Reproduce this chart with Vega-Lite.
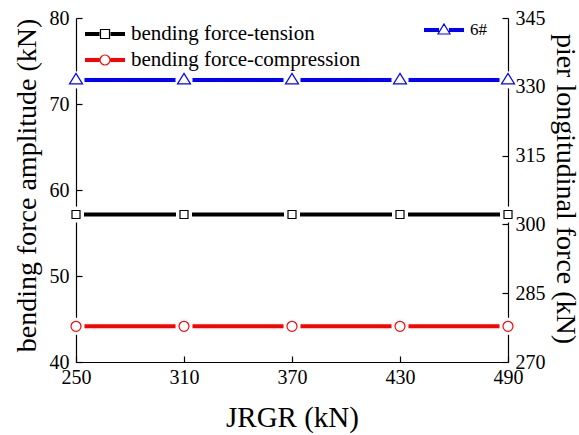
{
  "$schema": "https://vega.github.io/schema/vega-lite/v6.json",
  "width": 432,
  "height": 344,
  "autosize": "none",
  "padding": {"left": 76, "top": 18, "right": 71, "bottom": 73},
  "background": "white",
  "config": {
    "view": {"stroke": null},
    "font": "'Liberation Serif', 'Times New Roman', 'DejaVu Serif', serif",
    "text": {"font": "'Liberation Serif', 'Times New Roman', 'DejaVu Serif', serif"},
    "axis": {
      "domainColor": "black", "domainWidth": 1.2, "tickColor": "black", "tickWidth": 1.2,
      "labelColor": "black", "titleColor": "black",
      "labelFont": "'Liberation Serif', 'Times New Roman', 'DejaVu Serif', serif",
      "titleFont": "'Liberation Serif', 'Times New Roman', 'DejaVu Serif', serif",
      "labelFontSize": 20, "titleFontSize": 28, "titleFontWeight": "normal", "grid": false, "zindex": 1,
      "tickSize": -6, "labelPadding": 13, "labelFlush": false
    },
    "legend": {"labelFont": "'Liberation Serif', 'Times New Roman', 'DejaVu Serif', serif", "labelColor": "black", "labelLimit": 0, "padding": 0, "title": null}
  },
  "data": {
    "values": [
      {"JRGR": 250, "series": "bending force-tension", "force": 57.15, "axis": "left"},
      {"JRGR": 310, "series": "bending force-tension", "force": 57.15, "axis": "left"},
      {"JRGR": 370, "series": "bending force-tension", "force": 57.15, "axis": "left"},
      {"JRGR": 430, "series": "bending force-tension", "force": 57.15, "axis": "left"},
      {"JRGR": 490, "series": "bending force-tension", "force": 57.15, "axis": "left"},
      {"JRGR": 250, "series": "bending force-compression", "force": 44.15, "axis": "left"},
      {"JRGR": 310, "series": "bending force-compression", "force": 44.15, "axis": "left"},
      {"JRGR": 370, "series": "bending force-compression", "force": 44.15, "axis": "left"},
      {"JRGR": 430, "series": "bending force-compression", "force": 44.15, "axis": "left"},
      {"JRGR": 490, "series": "bending force-compression", "force": 44.15, "axis": "left"},
      {"JRGR": 250, "series": "6#", "force": 331.5, "axis": "right"},
      {"JRGR": 310, "series": "6#", "force": 331.5, "axis": "right"},
      {"JRGR": 370, "series": "6#", "force": 331.5, "axis": "right"},
      {"JRGR": 430, "series": "6#", "force": 331.5, "axis": "right"},
      {"JRGR": 490, "series": "6#", "force": 331.5, "axis": "right"}
    ]
  },
  "encoding": {
    "x": {
      "field": "JRGR", "type": "quantitative",
      "scale": {"domain": [250, 490], "nice": false, "zero": false},
      "axis": {"values": [250, 310, 370, 430, 490], "title": "JRGR (kN)", "titleFontSize": 29, "labelPadding": 11, "titleX": 216, "titleY": 64, "titleBaseline": "alphabetic", "titleAlign": "center", "titleAnchor": null}
    }
  },
  "layer": [
    {
      "encoding": {
        "y": {
          "field": "force", "type": "quantitative",
          "scale": {"domain": [40, 80], "nice": false, "zero": false},
          "axis": {"values": [40, 50, 60, 70, 80], "title": "bending force amplitude (kN)", "titleX": -41, "titleY": 167, "titleAngle": -90, "titleBaseline": "alphabetic", "titleAlign": "center", "titleAnchor": null}
        }
      },
      "layer": [
        {
          "transform": [{"filter": "datum.series === 'bending force-tension'"}],
          "layer": [
            {"mark": {"type": "line", "strokeWidth": 4, "strokeCap": "butt", "color": "black"}, "encoding": {}},
            {"mark": {"type": "point", "filled": true, "color": "white", "opacity": 1, "strokeWidth": 0, "shape": "square", "size": 256}, "encoding": {}},
            {
              "mark": {"type": "point", "filled": false, "opacity": 1, "strokeWidth": 1.2, "shape": "square", "size": 64},
              "encoding": {
                "color": {
                  "field": "series", "type": "nominal",
                  "scale": {"domain": ["bending force-tension"], "range": ["black"]},
                  "legend": {
                    "orient": "none", "legendX": 18, "legendY": 5, "labelFontSize": 21, "symbolSize": 400,
                    "symbolStrokeWidth": 1.2, "labelOffset": 15,
                    "symbolType": "M-2,-0.15H-0.55M-2,-0.05H-0.55M-2,0.05H-0.55M-2,0.15H-0.55M0.55,-0.15H2M0.55,-0.05H2M0.55,0.05H2M0.55,0.15H2M-0.45,-0.45H0.45V0.45H-0.45Z"
                  }
                }
              }
            }
          ]
        },
        {
          "transform": [{"filter": "datum.series === 'bending force-compression'"}],
          "layer": [
            {"mark": {"type": "line", "strokeWidth": 4, "strokeCap": "butt", "color": "red"}, "encoding": {}},
            {"mark": {"type": "point", "filled": true, "color": "white", "opacity": 1, "strokeWidth": 0, "shape": "square", "size": 289}, "encoding": {}},
            {
              "mark": {"type": "point", "filled": false, "opacity": 1, "strokeWidth": 1.2, "shape": "circle", "size": 100},
              "encoding": {
                "color": {
                  "field": "series", "type": "nominal",
                  "scale": {"domain": ["bending force-compression"], "range": ["red"]},
                  "legend": {
                    "orient": "none", "legendX": 18, "legendY": 31, "labelFontSize": 21, "symbolSize": 400,
                    "symbolStrokeWidth": 1.2, "labelOffset": 15,
                    "symbolType": "M-2,-0.15H-0.55M-2,-0.05H-0.55M-2,0.05H-0.55M-2,0.15H-0.55M0.55,-0.15H2M0.55,-0.05H2M0.55,0.05H2M0.55,0.15H2M0.5,0A0.5,0.5,0,1,1,-0.5,0A0.5,0.5,0,1,1,0.5,0Z"
                  }
                }
              }
            }
          ]
        }
      ],
      "resolve": {"scale": {"color": "independent"}}
    },
    {
      "transform": [{"filter": "datum.axis === 'right'"}],
      "encoding": {
        "y": {
          "field": "force", "type": "quantitative",
          "scale": {"domain": [270, 345], "nice": false, "zero": false},
          "axis": {"orient": "right", "values": [270, 285, 300, 315, 330, 345], "title": "pier longitudinal force (kN)", "titleX": 48, "titleY": 170.5, "titleAngle": 90, "titleBaseline": "alphabetic", "titleAlign": "center", "titleAnchor": null}
        }
      },
      "layer": [
        {"mark": {"type": "line", "strokeWidth": 4, "strokeCap": "butt", "color": "#0000ff"}, "encoding": {}},
        {"mark": {"type": "point", "filled": true, "color": "white", "opacity": 1, "strokeWidth": 0, "shape": "square", "size": 289}, "encoding": {}},
        {
          "mark": {"type": "point", "filled": false, "opacity": 1, "strokeWidth": 1.2, "shape": "M0,-1L1,0.6L-1,0.6Z", "size": 169},
          "encoding": {
            "color": {
              "field": "series", "type": "nominal",
              "scale": {"domain": ["6#"], "range": ["#0000ff"]},
              "legend": {
                "orient": "none", "legendX": 357, "legendY": 1, "labelFontSize": 17, "symbolSize": 400,
                "symbolStrokeWidth": 1.2, "labelOffset": 15,
                "symbolType": "M-2,-0.15H-0.5M-2,-0.05H-0.5M-2,0.05H-0.5M-2,0.15H-0.5M0.5,-0.15H2M0.5,-0.05H2M0.5,0.05H2M0.5,0.15H2M0,-0.6L0.6,0.4L-0.6,0.4Z"
              }
            }
          }
        }
      ]
    }
  ],
  "resolve": {"scale": {"y": "independent", "color": "independent"}}
}
